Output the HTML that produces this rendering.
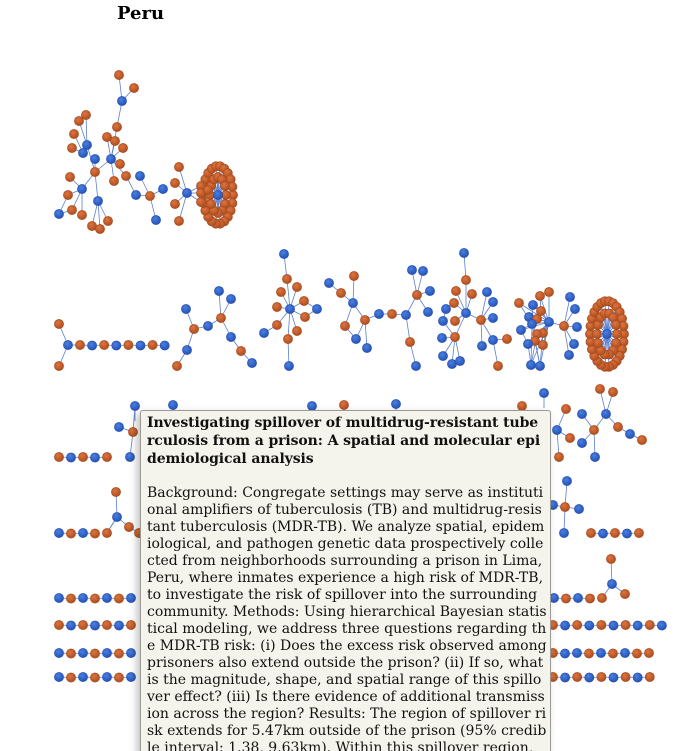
<!DOCTYPE html>
<html><head><meta charset="utf-8"><style>
html,body{margin:0;padding:0;background:#fff;width:692px;height:751px;overflow:hidden;position:relative}
#title{position:absolute;left:117px;top:3px;font:bold 18px "DejaVu Serif","Liberation Serif",serif;color:#000}
svg{position:absolute;left:0;top:0}
#tip{position:absolute;left:140px;top:410px;width:411px;height:360px;background:#f4f3ec;border:1px solid #9a9a92;border-radius:3px;box-shadow:-3px 3px 8px rgba(0,0,0,0.25);padding:3px 0 0 6px;box-sizing:border-box;font-family:"DejaVu Serif","Liberation Serif",serif;font-size:14px;color:#111;white-space:nowrap;overflow:hidden}
#tip .t{font-weight:bold;line-height:18px;letter-spacing:-0.1px}
#tip .b{line-height:17px}
#tip .gap{height:17px}
</style></head><body>
<div id="title">Peru</div>
<svg id="net" width="692" height="751"></svg>
<div id="tip">
<div class="t">Investigating spillover of multidrug-resistant tube<br>rculosis from a prison: A spatial and molecular epi<br>demiological analysis</div>
<div class="gap"></div>
<div class="b">Background: Congregate settings may serve as instituti<br>onal amplifiers of tuberculosis (TB) and multidrug-resis<br>tant tuberculosis (MDR-TB). We analyze spatial, epidem<br>iological, and pathogen genetic data prospectively colle<br>cted from neighborhoods surrounding a prison in Lima,<br>Peru, where inmates experience a high risk of MDR-TB,<br>to investigate the risk of spillover into the surrounding<br>community. Methods: Using hierarchical Bayesian statis<br>tical modeling, we address three questions regarding th<br>e MDR-TB risk: (i) Does the excess risk observed among<br>prisoners also extend outside the prison? (ii) If so, what<br>is the magnitude, shape, and spatial range of this spillo<br>ver effect? (iii) Is there evidence of additional transmiss<br>ion across the region? Results: The region of spillover ri<br>sk extends for 5.47km outside of the prison (95% credib<br>le interval: 1.38, 9.63km). Within this spillover region,</div>
</div>
<script>
// nodes: x,y,type (b = blue paper, o = orange)
const nodesA=[[119,75,'o'],[134,88,'o'],[122,101,'b'],[117,127,'o'],[86,115,'o'],[79,121,'o'],[74,134,'o'],[87,145,'b'],[72,148,'o'],[83,153,'b'],[95,159,'b'],[107,137,'o'],[115,141,'o'],[123,148,'o'],[111,159,'b'],[120,164,'o'],[114,181,'o'],[95,172,'o'],[70,177,'o'],[82,189,'b'],[68,195,'o'],[72,210,'o'],[59,214,'b'],[82,215,'o'],[98,201,'b'],[92,226,'o'],[100,229,'o'],[108,221,'o'],[126,176,'o'],[140,176,'b'],[136,195,'b'],[150,196,'o'],[163,189,'b'],[156,220,'b'],
[187,193,'b'],[179,167,'o'],[175,183,'o'],[175,204,'o'],[179,221,'o'],[201,186,'o'],[201,193,'o'],[201,202,'o'],[208,190,'o'],[218,195,'b']];
const edgesA=[[0,2],[1,2],[2,3],[3,14],[11,14],[12,14],[13,14],[14,15],[14,16],[14,17],[4,7],[5,7],[6,9],[7,9],[8,9],[7,17],[10,17],[17,19],[18,19],[20,19],[19,21],[21,22],[20,22],[19,23],[17,24],[24,25],[24,26],[24,27],[14,28],[28,30],[30,31],[29,31],[31,32],[31,33],
[34,35],[34,36],[34,37],[34,38],[34,39],[34,40],[34,41],[39,43],[40,43],[41,43],[42,43]];
const nodesM=[[59,324,'o'],[68,345,'b'],[59,366,'o'],
[186,309,'b'],[194,329,'o'],[187,350,'b'],[177,366,'o'],[208,326,'b'],[221,318,'o'],[219,291,'b'],[231,299,'b'],[231,337,'b'],[241,351,'o'],[252,363,'b'],
[290,309,'b'],[284,254,'b'],[287,279,'o'],[297,287,'o'],[281,292,'o'],[277,307,'o'],[304,301,'o'],[305,317,'o'],[317,309,'b'],[277,325,'o'],[264,333,'b'],[297,331,'o'],[288,339,'o'],[289,366,'b'],
[329,283,'b'],[341,293,'o'],[354,276,'o'],[353,303,'b'],[345,326,'o'],[356,339,'b'],[365,320,'o'],[367,348,'b'],[379,314,'b'],[392,314,'o'],[406,315,'b'],[417,295,'o'],[412,270,'b'],[423,271,'b'],[430,291,'b'],[428,312,'b'],[410,342,'o'],[416,366,'b'],
[466,313,'b'],[464,253,'b'],[466,280,'o'],[456,291,'o'],[472,294,'o'],[454,303,'o'],[446,309,'b'],[443,321,'b'],[455,321,'o'],[455,337,'o'],[442,338,'b'],[443,356,'b'],[452,364,'b'],[460,361,'b'],[481,320,'o'],[487,292,'b'],[493,302,'b'],[493,318,'b'],[482,346,'b'],[493,340,'b'],[507,339,'o'],[498,366,'o'],
[519,303,'o'],[533,305,'b'],[540,296,'o'],[549,292,'o'],[541,311,'o'],[529,317,'b'],[537,319,'o'],[532,324,'b'],[549,322,'b'],[521,330,'b'],[543,333,'o'],[537,334,'o'],[535,341,'o'],[528,344,'b'],[543,345,'o'],[531,365,'b'],[540,366,'b'],[564,326,'o'],[570,297,'b'],[575,309,'b'],[577,327,'b'],[574,344,'b'],[569,355,'b'],[607,334,'b']];
const edgesM=[[0,1],[2,1],[3,4],[4,5],[5,6],[4,7],[7,8],[8,9],[8,10],[8,11],[11,12],[12,13],
[15,16],[16,14],[17,14],[18,14],[19,14],[20,14],[21,14],[20,22],[21,22],[23,14],[23,24],[25,14],[26,14],[26,27],
[28,29],[29,31],[30,31],[31,32],[32,33],[31,34],[33,34],[34,35],[34,36],[36,37],[37,38],[38,39],[39,40],[39,41],[39,42],[39,43],[38,44],[44,45],
[48,47],[48,46],[49,46],[50,46],[51,46],[51,52],[52,53],[54,46],[55,46],[55,56],[55,57],[55,58],[55,59],[53,55],[46,60],[60,61],[60,62],[60,63],[60,64],[60,65],[65,66],[65,67],
[68,76],[69,76],[70,76],[71,76],[72,76],[73,76],[74,76],[75,76],[77,76],[78,76],[79,76],[80,76],[81,76],[82,76],[68,75],[69,75],[73,75],[77,75],[79,75],[83,75],[84,75],[83,76],[84,76],[83,79],[84,80],[83,81],[84,78],[76,85],[85,86],[85,87],[85,88],[85,89],[85,90],[77,81],[70,72]];
// rings of papers attached to single hubs: [cx,cy,rx,ry,count]
const rings=[[218,195,15,29,22],[218,195,8,18,12],[607,334,17,33,26],[607,334,10,21,14]];
// chains: [startX, y, step, types]
const chains=[[80,345,12.1,'obobobob'],[59,457,12,'obobo'],[59,533,12,'bobo'],[59,598,12,'bobobob'],[59,625,12,'obobobo'],[59,653,12,'bobobob'],[59,677,12,'bobobob'],
[591,533,12,'obobo'],[554,598,12,'bobo'],[553,625,12.1,'obobobobob'],[553,653,12,'obboboboo'],[553,677,12.1,'obobobobo']];
const nodesL=[[135,406,'b'],[119,427,'b'],[133,432,'o'],[130,457,'b'],[116,492,'o'],[117,517,'b'],[129,527,'o'],[139,533,'o'],[107,533,'o'],
[173,405,'b'],[312,406,'b'],[344,405,'o'],[396,404,'b'],[522,406,'o'],[544,393,'b'],
[566,409,'o'],[557,430,'b'],[570,438,'o'],[559,457,'o'],[582,414,'b'],[606,414,'b'],[600,389,'o'],[613,392,'o'],[594,430,'o'],[582,443,'b'],[595,457,'b'],[618,427,'o'],[630,434,'b'],[642,440,'o'],
[567,481,'b'],[565,507,'o'],[579,509,'b'],[564,533,'b'],[553,505,'b'],[611,559,'o'],[612,584,'b'],[625,594,'o'],[602,598,'o']];
const edgesL=[[0,2],[1,2],[2,3],[4,5],[5,6],[6,7],[5,8],[15,16],[16,17],[16,18],[23,19],[23,20],[20,21],[20,22],[23,24],[23,25],[20,26],[26,27],[27,28],[29,30],[30,31],[30,32],[30,33],[34,35],[35,36],[35,37]];
const hangs=[[135,406],[173,405],[312,406],[344,405],[396,404],[522,406],[544,393]];

const NS='http://www.w3.org/2000/svg';
const svg=document.getElementById('net');
const defs=document.createElementNS(NS,'defs');
defs.innerHTML='<radialGradient id="gb" cx="40%" cy="35%" r="65%"><stop offset="0" stop-color="#4a7fe0"/><stop offset="1" stop-color="#2453b8"/></radialGradient><radialGradient id="go" cx="40%" cy="35%" r="65%"><stop offset="0" stop-color="#dc7440"/><stop offset="1" stop-color="#b04e1e"/></radialGradient>';
svg.appendChild(defs);
const gE=document.createElementNS(NS,'g');


const gN=document.createElementNS(NS,'g');


svg.appendChild(gE);svg.appendChild(gN);
function line(a,b){const l=document.createElementNS(NS,'line');
l.setAttribute('x1',a[0]);l.setAttribute('y1',a[1]);l.setAttribute('x2',b[0]);l.setAttribute('y2',b[1]);
l.setAttribute('stroke','#5b7fd0');l.setAttribute('stroke-width','0.8');


gE.appendChild(l);}
function node(n){const c=document.createElementNS(NS,'circle');
c.setAttribute('cx',n[0]);c.setAttribute('cy',n[1]);c.setAttribute('r',4.6);
c.setAttribute('fill',n[2]==='b'?'url(#gb)':'url(#go)');
c.setAttribute('stroke',n[2]==='b'?'#2a4fa8':'#a34a1e');c.setAttribute('stroke-width','0.6');


gN.appendChild(c);}
function draw(nodes,edges){edges.forEach(e=>line(nodes[e[0]],nodes[e[1]]));}
draw(nodesA,edgesA);draw(nodesM,edgesM);draw(nodesL,edgesL);
hangs.forEach(h=>line(h,[h[0],h[1]+15]));
const ringNodes=[];
rings.forEach(r=>{for(let i=0;i<r[4];i++){const a=i/r[4]*Math.PI*2;ringNodes.push([r[0]+r[2]*Math.cos(a),r[1]+r[3]*Math.sin(a),'o']);line([r[0],r[1]],ringNodes[ringNodes.length-1]);}});
const chainNodes=[];
chains.forEach(c=>{let prev=null;for(let i=0;i<c[3].length;i++){const n=[c[0]+i*c[2],c[1]+(i%2?0.5:0),c[3][i]];if(prev)line(prev,n);prev=n;chainNodes.push(n);}});
line([68,345],[80,345]);line([107,533],[117,517]);
ringNodes.forEach(node);
[nodesA,nodesM,nodesL,chainNodes].forEach(a=>a.forEach(node));
</script>
</body></html>
